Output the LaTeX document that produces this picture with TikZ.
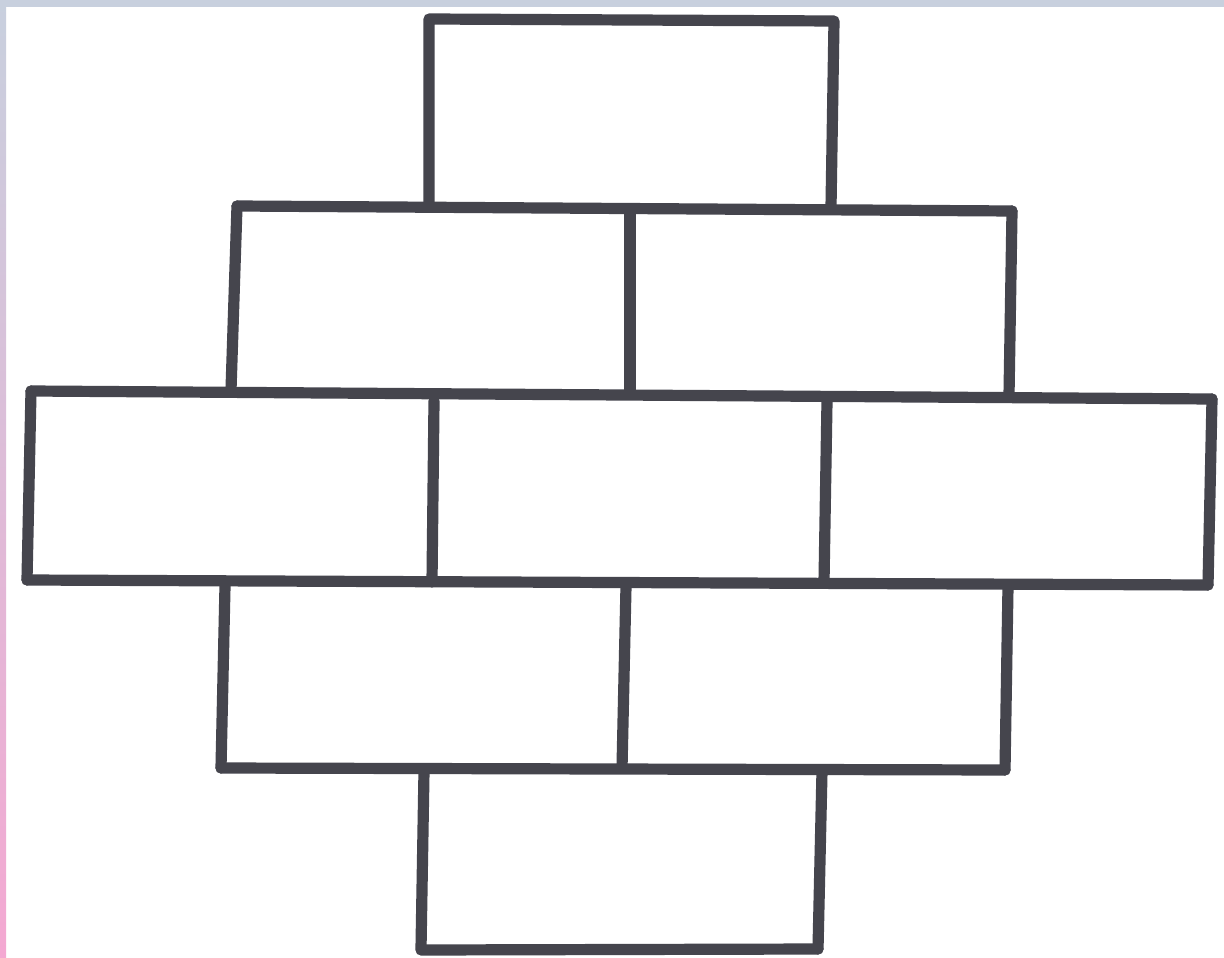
\documentclass[tikz,border=0pt]{standalone}
\usetikzlibrary{calc}
\definecolor{ink}{HTML}{45454D}
\definecolor{topband}{HTML}{C8D0DE}
\definecolor{pinkband}{HTML}{F4A8D2}
\tikzset{brickline/.style={draw=ink,line width=5.6pt,line cap=round,line join=round}}
\begin{document}
\begin{tikzpicture}[x={(0.5pt,0)},y={(0,-0.5pt)}]
\fill[white] (0,0) rectangle (1224,957);
\useasboundingbox (0,0) rectangle (1224,957);
\fill[topband] (0,0) rectangle (1224,7);
\shade[top color=topband,bottom color=pinkband] (0,957) rectangle (6,0);
% row 1
\draw[brickline] (429,205) -- (429,19) -- (834,21) -- (831,207);
% row 2
\draw[brickline] (237,206) -- (1012,211);
\draw[brickline] (237,206) -- (231,390);
\draw[brickline] (630,211) -- (630,393);
\draw[brickline] (1012,211) -- (1009,395);
% row 3
\draw[brickline] (31,391) -- (1212,399);
\draw[brickline] (31,391) -- (27,580);
\draw[brickline] (434,401) -- (432,582);
\draw[brickline] (827,401) -- (824,582);
\draw[brickline] (1212,399) -- (1208,585);
\draw[brickline] (27,580) -- (1208,585);
% row 4
\draw[brickline] (225,586) -- (221,768);
\draw[brickline] (626,586) -- (622,768);
\draw[brickline] (1008,586) -- (1005,770);
\draw[brickline] (221,768) -- (1005,770);
% row 5
\draw[brickline] (424,771) -- (421,949);
\draw[brickline] (822,771) -- (818,949);
\draw[brickline] (421,950) -- (818,949);
\end{tikzpicture}
\end{document}
